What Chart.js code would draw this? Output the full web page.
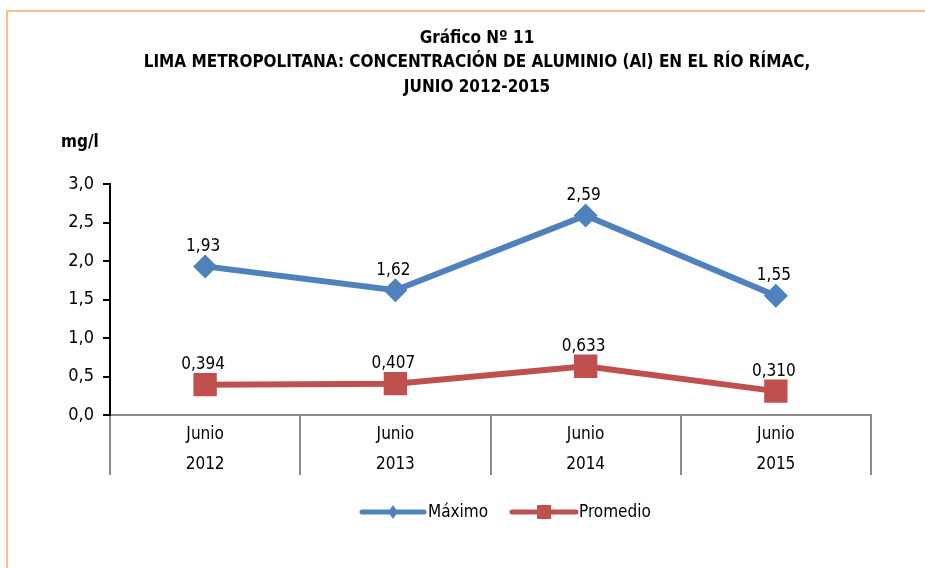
<!DOCTYPE html>
<html>
<head>
<meta charset="utf-8">
<script src="https://cdn.jsdelivr.net/npm/chart.js@4"></script>
<style>
  html, body { margin: 0; padding: 0; background: #fff; }
  #wrap { position: relative; width: 925px; height: 568px; }
  #frame { position: absolute; left: 6px; top: 10px; width: 930px; height: 570px;
    border-left: 2px solid #fbbf8f; border-top: 2px solid #fbbf8f; }
  canvas { position: absolute; left: 0; top: 0; }
</style>
</head>
<body>
<div id="wrap">
  <div id="frame"></div>
  <canvas id="chart" width="925" height="568"></canvas>
</div>
<script>
const FONT = "'Liberation Sans Narrow', 'DejaVu Sans Condensed', 'Liberation Sans', sans-serif"

const titleLines = [
  'Gráfico Nº 11',
  'LIMA METROPOLITANA: CONCENTRACIÓN DE ALUMINIO (Al) EN EL RÍO RÍMAC,',
  'JUNIO 2012-2015'
]
const unitLabel = 'mg/l'
const categories = [['Junio', '2012'], ['Junio', '2013'], ['Junio', '2014'], ['Junio', '2015']]
const maximo = [1.93, 1.62, 2.59, 1.55]
const promedio = [0.394, 0.407, 0.633, 0.310]
const maximoLabels = ['1,93', '1,62', '2,59', '1,55']
const promedioLabels = ['0,394', '0,407', '0,633', '0,310']

document.addEventListener('DOMContentLoaded', () => {
  // Title, unit, data labels and legend drawn on the canvas
  const textPlugin = {
    id: 'textPlugin',
    afterDraw: (chart) => {
      const ctx = chart.ctx
      ctx.save()
      ctx.fillStyle = '#000'
      ctx.textAlign = 'center'
      ctx.textBaseline = 'middle'
      ctx.font = 'bold 17px ' + FONT
      ctx.fillText(titleLines[0], 477, 39)
      ctx.fillText(titleLines[1], 477, 63)
      ctx.fillText(titleLines[2], 477, 88)

      ctx.textAlign = 'left'
      ctx.fillText(unitLabel, 61, 143)

      // data labels above each point
      ctx.font = '17px ' + FONT
      ctx.textAlign = 'center'
      const labelSets = [maximoLabels, promedioLabels]
      chart.data.datasets.forEach((ds, i) => {
        const meta = chart.getDatasetMeta(i)
        meta.data.forEach((pt, j) => {
          ctx.fillText(labelSets[i][j], pt.x - 2, pt.y - 20)
        })
      })

      // legend: line with marker, then text
      const items = [
        { ds: chart.data.datasets[0], x0: 362, x1: 424, tx: 428 },
        { ds: chart.data.datasets[1], x0: 512, x1: 576, tx: 579 }
      ]
      const ly = 512
      items.forEach((it) => {
        ctx.strokeStyle = it.ds.borderColor
        ctx.lineWidth = 5
        ctx.lineCap = 'round'
        ctx.beginPath()
        ctx.moveTo(it.x0, ly)
        ctx.lineTo(it.x1, ly)
        ctx.stroke()
        ctx.fillStyle = it.ds.borderColor
        const cx = (it.x0 + it.x1) / 2
        if (it.ds.pointStyle === 'rectRot') {
          ctx.beginPath()
          ctx.moveTo(cx, ly - 7)
          ctx.lineTo(cx + 5, ly)
          ctx.lineTo(cx, ly + 7)
          ctx.lineTo(cx - 5, ly)
          ctx.closePath()
          ctx.fill()
        } else {
          ctx.fillRect(cx - 7, ly - 7, 14, 14)
        }
        ctx.fillStyle = '#000'
        ctx.textAlign = 'left'
        ctx.font = '17px ' + FONT
        ctx.fillText(it.ds.label, it.tx, ly + 1)
      })
      ctx.restore()
    }
  }

  new Chart(document.getElementById('chart'), {
    type: 'line',
    data: {
      labels: categories,
      datasets: [
        {
          label: 'Máximo',
          data: maximo,
          borderColor: '#4f81bd',
          backgroundColor: '#4f81bd',
          borderWidth: 6,
          pointStyle: 'rectRot',
          pointRadius: 12,
          pointBorderWidth: 0,
          tension: 0
        },
        {
          label: 'Promedio',
          data: promedio,
          borderColor: '#c0504d',
          backgroundColor: '#c0504d',
          borderWidth: 6,
          pointStyle: 'rect',
          pointRadius: 16.5,
          pointBorderWidth: 0,
          tension: 0
        }
      ]
    },
    options: {
      responsive: false,
      animation: false,
      layout: { padding: { left: 60, right: 54, top: 184, bottom: 83 } },
      plugins: {
        legend: { display: false },
        title: { display: false },
        tooltip: { enabled: false }
      },
      scales: {
        x: {
          offset: true,
          afterFit: (scale) => { scale.height = 70 },
          border: { color: '#8a8a8a', width: 2 },
          grid: {
            offset: true,
            drawOnChartArea: false,
            color: '#8a8a8a',
            lineWidth: 2,
            tickLength: 60
          },
          ticks: {
            color: '#000',
            padding: -55,
            font: { family: FONT, size: 17, lineHeight: 1.76 }
          }
        },
        y: {
          min: 0,
          max: 3,
          afterFit: (scale) => { scale.width = 50 },
          border: { color: '#000', width: 2 },
          grid: {
            drawOnChartArea: false,
            color: '#000',
            lineWidth: 2,
            tickLength: 7
          },
          ticks: {
            stepSize: 0.5,
            color: '#000',
            padding: 9,
            font: { family: FONT, size: 18 },
            callback: (v) => v.toFixed(1).replace('.', ',')
          }
        }
      }
    },
    plugins: [textPlugin]
  })
})
</script>
</body>
</html>
